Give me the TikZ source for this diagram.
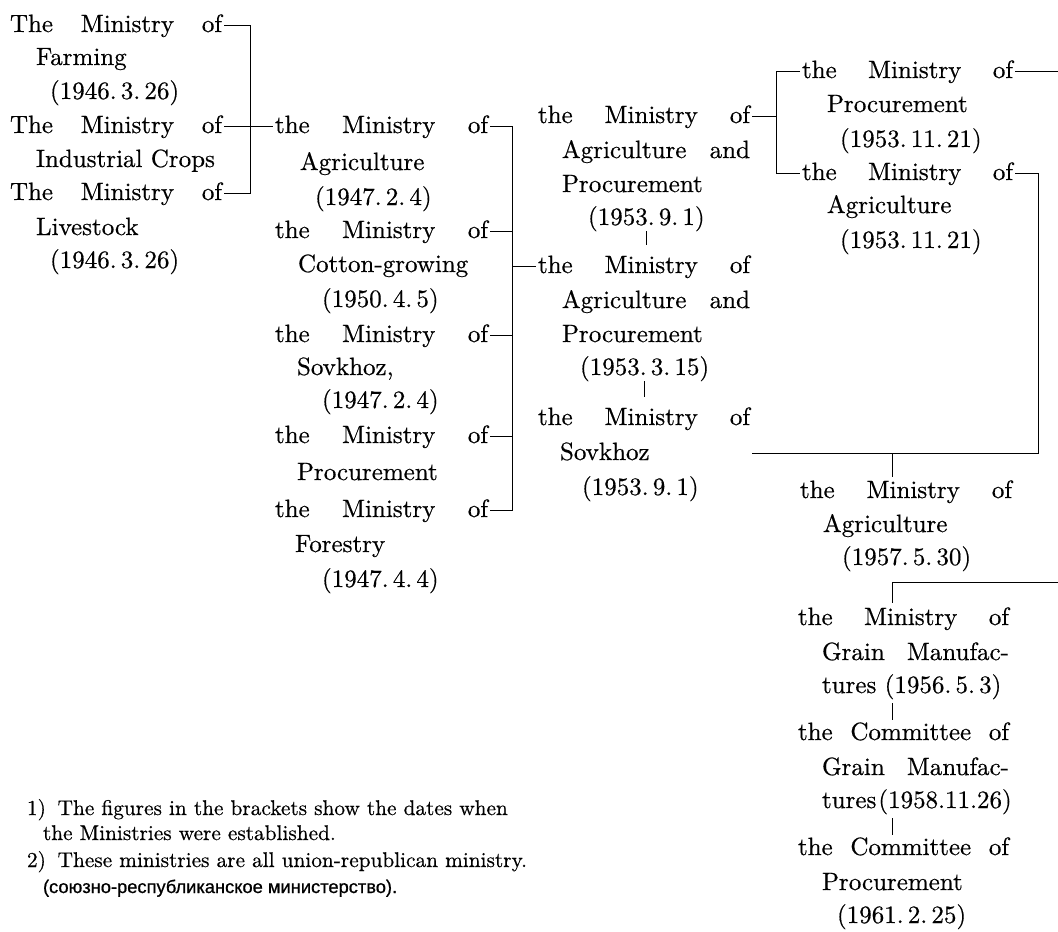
\documentclass[tikz,border=0pt]{standalone}
\usepackage{fontspec}
\setmainfont{lmroman10-regular}[Extension=.otf, FakeBold=0.5]
\newfontfamily\cyrfont{Liberation Sans}[FakeBold=0.8]
\newcommand\mainfs{\fontsize{25}{30}\selectfont}
\newcommand\notefs{\fontsize{21.3}{26}\selectfont}
\newcommand\JustL[2]{\makebox[#1pt][s]{#2}}
\newcommand\Rdash[1]{\path ([shift={(2pt,7pt)}]#1.base east) coordinate (#1r);}
\newcommand\Ldash[1]{\path ([shift={(-2pt,7pt)}]#1.base west) coordinate (#1l);}
\begin{document}
\begin{tikzpicture}[x=1pt,y=-1pt,
  txt/.style={inner sep=0pt, outer sep=0pt, anchor=base west, font=\mainfs},
  note/.style={inner sep=0pt, outer sep=0pt, anchor=base west, font=\notefs},
  conn/.style={line width=1pt}]
\fill[white] (0,0) rectangle (1058,932);
\useasboundingbox (0,0) rectangle (1058,932);

% column 1
\node[txt] (c1a1) at (10,32) {\JustL{212}{The Ministry of}};
\node[txt] (c1a2) at (36,65) {Farming};
\node[txt] (c1a3) at (50,99) {(1946.\,3.\,26)};
\node[txt] (c1b1) at (10,133) {\JustL{212}{The Ministry of}};
\node[txt] (c1b2) at (36,167) {Industrial Crops};
\node[txt] (c1c1) at (10,200) {\JustL{212}{The Ministry of}};
\node[txt] (c1c2) at (36,235) {Livestock};
\node[txt] (c1c3) at (50,268) {(1946.\,3.\,26)};

% column 2
\node[txt] (c2a1) at (275,133) {\JustL{213}{the Ministry of}};
\node[txt] (c2a2) at (300,170) {Agriculture};
\node[txt] (c2a3) at (315,205) {(1947.\,2.\,4)};
\node[txt] (c2b1) at (275,238) {\JustL{213}{the Ministry of}};
\node[txt] (c2b2) at (298,272) {Cotton-growing};
\node[txt] (c2b3) at (322,307) {(1950.\,4.\,5)};
\node[txt] (c2c1) at (275,342) {\JustL{213}{the Ministry of}};
\node[txt] (c2c2) at (297,375) {Sovkhoz,};
\node[txt] (c2c3) at (322,408) {(1947.\,2.\,4)};
\node[txt] (c2d1) at (275,443) {\JustL{213}{the Ministry of}};
\node[txt] (c2d2) at (297,480) {Procurement};
\node[txt] (c2e1) at (275,517) {\JustL{213}{the Ministry of}};
\node[txt] (c2e2) at (295,552) {Forestry};
\node[txt] (c2e3) at (322,587) {(1947.\,4.\,4)};

% column 3
\node[txt] (c3a1) at (538,123) {\JustL{212}{the Ministry of}};
\node[txt] (c3a2) at (562,158) {\JustL{188}{Agriculture and}};
\node[txt] (c3a3) at (562,192) {Procurement};
\node[txt] (c3a4) at (588,225) {(1953.\,9.\,1)};
\node[txt] (c3b1) at (538,273) {\JustL{212}{the Ministry of}};
\node[txt] (c3b2) at (562,308) {\JustL{188}{Agriculture and}};
\node[txt] (c3b3) at (562,342) {Procurement};
\node[txt] (c3b4) at (580,375) {(1953.\,3.\,15)};
\node[txt] (c3c1) at (538,425) {\JustL{212}{the Ministry of}};
\node[txt] (c3c2) at (560,460) {Sovkhoz};
\node[txt] (c3c3) at (582,495) {(1953.\,9.\,1)};

% column 4
\node[txt] (c4a1) at (802,78) {\JustL{211}{the Ministry of}};
\node[txt] (c4a2) at (827,112) {Procurement};
\node[txt] (c4a3) at (840,147) {(1953.\,11.\,21)};
\node[txt] (c4b1) at (802,180) {\JustL{211}{the Ministry of}};
\node[txt] (c4b2) at (827,213) {Agriculture};
\node[txt] (c4b3) at (840,248) {(1953.\,11.\,21)};

% column 5
\node[txt] (c5a1) at (800,498) {\JustL{212}{the Ministry of}};
\node[txt] (c5a2) at (823,532) {Agriculture};
\node[txt] (c5a3) at (842,565) {(1957.\,5.\,30)};
\node[txt] (c5b1) at (798,625) {\JustL{211}{the Ministry of}};
\node[txt] (c5b2) at (822,660) {\JustL{187}{Grain Manufac-}};
\node[txt] (c5b3) at (822,693) {tures (1956.\,5.\,3)};
\node[txt] (c5c1) at (798,740) {\JustL{211}{the Committee of}};
\node[txt] (c5c2) at (822,775) {\JustL{187}{Grain Manufac-}};
\node[txt] (c5c3) at (822,808) {tures\hspace{2pt}(1958.11.26)};
\node[txt] (c5d1) at (798,855) {\JustL{211}{the Committee of}};
\node[txt] (c5d2) at (822,890) {Procurement};
\node[txt] (c5d3) at (837,923) {(1961.\,2.\,25)};

% notes
\node[note] (n1) at (27,815) {1)\hspace{0.55em}The figures in the brackets show the dates when};
\node[note] (n2) at (43,840) {the Ministries were established.};
\node[note] (n3) at (27,867) {2)\hspace{0.55em}These ministries are all union-republican ministry.};
\node[note] (n4) at (43,893) {\cyrfont\fontsize{18.3}{26}\selectfont (союзно-республиканское министерство).};

% dash points
\Rdash{c1a1}\Rdash{c1b1}\Rdash{c1c1}
\Ldash{c2a1}
\Rdash{c2a1}\Rdash{c2b1}\Rdash{c2c1}\Rdash{c2d1}\Rdash{c2e1}
\Ldash{c3b1}
\Rdash{c3a1}\Rdash{c3c1}\Rdash{c3c2}
\Ldash{c4a1}\Ldash{c4b1}
\Rdash{c4a1}\Rdash{c4b1}

\coordinate (B1) at (250,0);
\coordinate (B2) at (512,0);
\coordinate (B3) at (776,0);
\coordinate (B4) at (1038,0);
\coordinate (V1) at (892,0);
\coordinate (E) at (1058,0);
\coordinate (H2) at (1058,582);

% bracket 1
\draw[conn] (c1a1r) -| (B1 |- c1c1r) -- (c1c1r);
\draw[conn] (c1b1r) -- (B1 |- c1b1r);
\draw[conn] (B1 |- c2a1l) -- (c2a1l);

% bracket 2
\draw[conn] (c2a1r) -| (B2 |- c2e1r) -- (c2e1r);
\draw[conn] (c2b1r) -- (B2 |- c2b1r);
\draw[conn] (c2c1r) -- (B2 |- c2c1r);
\draw[conn] (c2d1r) -- (B2 |- c2d1r);
\draw[conn] (B2 |- c3b1l) -- (c3b1l);

% column 3 successions
\draw[conn, shorten >=10pt] (c3a4.south) -- (c3a4.south |- c3b1.north);
\draw[conn, shorten >=10pt] (c3b4.south) -- (c3b4.south |- c3c1.north);

% bracket 3
\draw[conn] (c4a1l) -| (B3 |- c4b1l) -- (c4b1l);
\draw[conn] (c3a1r) -- (B3 |- c3a1r);

% right side
\draw[conn] (c4a1r) -- (E |- c4a1r);
\draw[conn] (c4b1r) -| (B4 |- c3c2r) -- (c3c1r |- c3c2r);
\draw[conn, shorten >=3pt] (V1 |- c3c2r) -- (V1 |- c5a1.north);
\draw[conn, shorten >=4pt] (H2) -- (V1 |- H2) -- (V1 |- c5b1.north);

% column 5 successions
\draw[conn, shorten <=4pt, shorten >=2pt] (V1 |- c5b3.south) -- (V1 |- c5c1.north);
\draw[conn, shorten <=4pt, shorten >=2pt] (V1 |- c5c3.south) -- (V1 |- c5d1.north);
\end{tikzpicture}
\end{document}
